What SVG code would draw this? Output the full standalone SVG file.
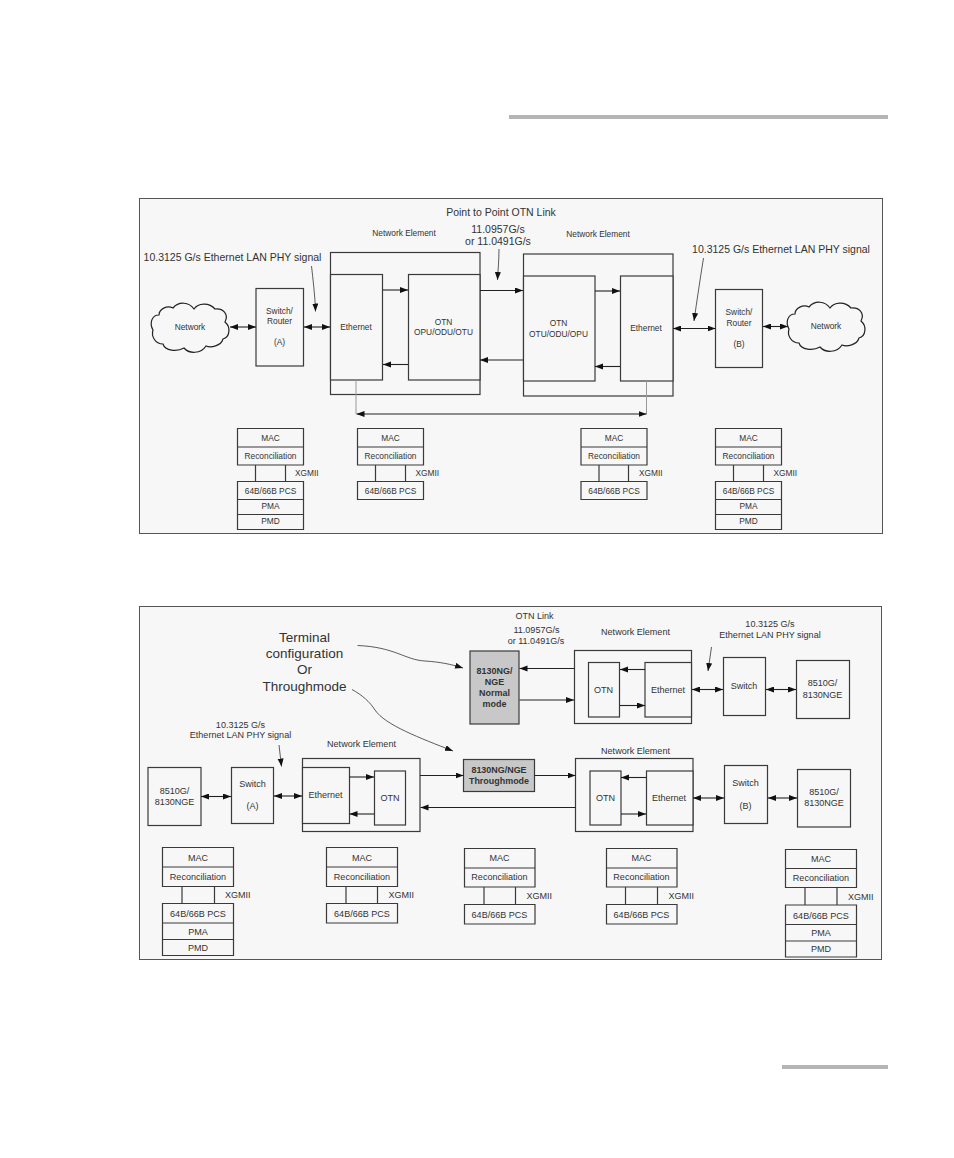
<svg xmlns="http://www.w3.org/2000/svg" width="954" height="1158" viewBox="0 0 954 1158">
<style>
text{font-family:"Liberation Sans",Arial,sans-serif;fill:#333;text-anchor:middle}
.s{font-size:8.35px}.m{font-size:9.05px}.l{font-size:10.5px}.b{font-size:8.95px;font-weight:bold}.h{font-size:13.5px}
.st{text-anchor:start}
.box{fill:none;stroke:#3a3a3a;stroke-width:1.2}
.wb{fill:#f7f7f7;stroke:#3a3a3a;stroke-width:1.2}
.g{fill:#c8c8c8;stroke:#3a3a3a;stroke-width:1.2}
.c{fill:none;stroke:#222;stroke-width:1.1;marker-end:url(#a)}
.d{fill:none;stroke:#222;stroke-width:1.1;marker-end:url(#a);marker-start:url(#r)}
.p{fill:none;stroke:#333;stroke-width:.8;marker-end:url(#a)}
.gl{fill:none;stroke:#999;stroke-width:1}
</style>
<defs>
<marker id="a" markerUnits="userSpaceOnUse" markerWidth="9" markerHeight="7" refX="8" refY="3" orient="auto"><path d="M0 0L8 3L0 6z" fill="#111"/></marker>
<marker id="r" markerUnits="userSpaceOnUse" markerWidth="9" markerHeight="7" refX="0" refY="3" orient="auto"><path d="M8 0L0 3L8 6z" fill="#111"/></marker>
<path id="cloud" d="M2 27C-2 20 1 12 8 12C8 6 16 2 22 5C28-2 38-1 43 6C47 0 58-1 64 6C72 5 78 11 74 19C80 24 79 34 72 36C70 43 60 45 55 43C50 51 38 51 33 45C26 49 14 48 12 41C4 41 0 33 2 27Z"/>
</defs>
<rect width="954" height="1158" fill="#fff"/>
<rect x="509" y="115" width="379" height="4" fill="#b5b5b5"/>
<rect x="782" y="1065" width="106" height="4" fill="#b5b5b5"/>

<g id="panel1"><rect x="139.500" y="198.500" width="743" height="335" fill="#f7f7f7" stroke="#555"/></g>
<g id="panel2"><rect x="139.500" y="606.500" width="742" height="353" fill="#f7f7f7" stroke="#555"/></g>

<g id="p1-labels">
<text class="l" x="501" y="215.500">Point to Point OTN Link</text>
<text class="s" x="404" y="235.500">Network Element</text>
<text class="s" x="598" y="236.500">Network Element</text>
<text class="l" x="498" y="232.500">11.0957G/s</text>
<text class="l" x="498" y="245">or 11.0491G/s</text>
<text class="l" x="232.500" y="260.500">10.3125 G/s Ethernet LAN PHY signal</text>
<text class="l" x="781" y="252.500">10.3125 G/s Ethernet LAN PHY signal</text>
</g>

<g id="p1-cloud-a"><use href="#cloud" transform="translate(151 303)" fill="#f7f7f7" stroke="#222" stroke-width="1.2"/><text class="s" x="190" y="330">Network</text></g>
<g id="p1-cloud-b"><use href="#cloud" transform="translate(787 302)" fill="#f7f7f7" stroke="#222" stroke-width="1.2"/><text class="s" x="826" y="329">Network</text></g>
<g id="p1-switch-a"><rect class="wb" x="256" y="288.500" width="47.500" height="77.500"/><text class="s" x="279.500" y="313.500">Switch/</text><text class="s" x="279.500" y="324">Router</text><text class="s" x="279.500" y="345">(A)</text></g>
<g id="p1-switch-b"><rect class="wb" x="715.500" y="289.500" width="47" height="78"/><text class="s" x="739" y="315">Switch/</text><text class="s" x="739" y="325.500">Router</text><text class="s" x="739" y="347">(B)</text></g>
<g id="p1-ne-left"><rect class="box" x="330.500" y="252.500" width="149.500" height="142"/>
<rect class="wb" x="330.500" y="274.500" width="52" height="105.500"/><text class="s" x="356" y="330">Ethernet</text>
<rect class="wb" x="408.500" y="274.500" width="71.500" height="105.500"/><text class="s" x="443.500" y="324.500">OTN</text><text class="s" x="443.500" y="335">OPU/ODU/OTU</text></g>
<g id="p1-ne-right"><rect class="box" x="523.500" y="254" width="149.500" height="142"/>
<rect class="wb" x="523.500" y="276" width="71.500" height="105"/><text class="s" x="558.500" y="326">OTN</text><text class="s" x="558.500" y="336.500">OTU/ODU/OPU</text>
<rect class="wb" x="620.500" y="276" width="52.500" height="105"/><text class="s" x="646" y="331">Ethernet</text></g>

<g id="p1-connectors">
<path class="d" d="M230 327H256"/><path class="d" d="M304 327H330"/>
<path class="c" d="M383 290H408"/><path class="c" d="M408 364.500H383"/>
<path class="c" d="M480 290.500H523"/><path class="c" d="M523 360H480"/>
<path class="c" d="M595 291H620"/><path class="c" d="M620 366.500H595"/>
<path class="d" d="M673 328.500H715.500"/><path class="d" d="M763 326.500H788"/>
<path class="gl" d="M356 380V414M646.500 381V414"/>
<path class="d" d="M356.500 414H646.500"/>
<path class="p" d="M311.500 266C313 280 315 295 315.500 311.500"/>
<path class="p" d="M499 249C499 260 498 270 497.500 280"/>
<path class="p" d="M703.500 258C700 280 697 300 694 321"/>
</g>

<g id="p1-stack-1"><path class="box" d="M237.500 428.500H303.500V465H237.500ZM237.500 447H303.500M255.500 465V481.500M285.500 465V481.500M237.500 481.500H303.500V529.500H237.500ZM237.500 499.500H303.500M237.500 514.500H303.500"/><text class="s" x="270.500" y="440.500">MAC</text><text class="s" x="270.500" y="458.500">Reconciliation</text><text class="s st" x="295" y="476">XGMII</text><text class="s" x="270.500" y="493.500">64B/66B PCS</text><text class="s" x="270.500" y="509">PMA</text><text class="s" x="270.500" y="524">PMD</text></g>
<g id="p1-stack-2"><path class="box" d="M357.500 428.500H423.500V465H357.500ZM357.500 447H423.500M375.500 465V481.500M405.500 465V481.500M357.500 481.500H423.500V499.500H357.500Z"/><text class="s" x="390.500" y="440.500">MAC</text><text class="s" x="390.500" y="458.500">Reconciliation</text><text class="s st" x="415.500" y="476">XGMII</text><text class="s" x="390.500" y="493.500">64B/66B PCS</text></g>
<g id="p1-stack-3"><path class="box" d="M581 428.500H647V465H581ZM581 447H647M599 465V481.500M628.500 465V481.500M581 481.500H647V499.500H581Z"/><text class="s" x="614" y="440.500">MAC</text><text class="s" x="614" y="458.500">Reconciliation</text><text class="s st" x="639" y="476">XGMII</text><text class="s" x="614" y="493.500">64B/66B PCS</text></g>
<g id="p1-stack-4"><path class="box" d="M715.500 428.500H781.500V465H715.500ZM715.500 447H781.500M733.500 465V481.500M763.500 465V481.500M715.500 481.500H781.500V529.500H715.500ZM715.500 499.500H781.500M715.500 514.500H781.500"/><text class="s" x="748.500" y="440.500">MAC</text><text class="s" x="748.500" y="458.500">Reconciliation</text><text class="s st" x="773.500" y="476">XGMII</text><text class="s" x="748.500" y="493.500">64B/66B PCS</text><text class="s" x="748.500" y="509">PMA</text><text class="s" x="748.500" y="524">PMD</text></g>

<g id="p2-labels">
<text class="h" x="304.500" y="641.500">Terminal</text><text class="h" x="304.500" y="658">configuration</text><text class="h" x="304.500" y="674">Or</text><text class="h" x="304.500" y="690.500">Throughmode</text>
<text class="m" x="534.500" y="619">OTN Link</text><text class="m" x="536.500" y="632.500">11.0957G/s</text><text class="m" x="536" y="643.500">or 11.0491G/s</text>
<text class="m" x="635.500" y="634.500">Network Element</text><text class="m" x="635.500" y="753.500">Network Element</text><text class="m" x="361.500" y="747">Network Element</text>
<text class="m" x="770" y="627">10.3125 G/s</text><text class="m" x="770" y="637.500">Ethernet LAN PHY signal</text>
<text class="m" x="240.500" y="727.500">10.3125 G/s</text><text class="m" x="240.500" y="738">Ethernet LAN PHY signal</text>
</g>

<g id="p2-normal"><rect class="g" x="470" y="651" width="49" height="73"/><text class="b" x="494.500" y="674">8130NG/</text><text class="b" x="494.500" y="685">NGE</text><text class="b" x="494.500" y="696">Normal</text><text class="b" x="494.500" y="707">mode</text></g>
<g id="p2-through"><rect class="g" x="463.500" y="759.500" width="71" height="32"/><text class="b" x="499" y="772.500">8130NG/NGE</text><text class="b" x="499" y="783.500">Throughmode</text></g>
<g id="p2-8510-a"><rect class="wb" x="148" y="767.500" width="53" height="58"/><text class="m" x="174.500" y="793.500">8510G/</text><text class="m" x="174.500" y="804.500">8130NGE</text></g>
<g id="p2-switch-a"><rect class="wb" x="231.500" y="767.500" width="42" height="56"/><text class="m" x="252.500" y="787">Switch</text><text class="m" x="252.500" y="809">(A)</text></g>
<g id="p2-ne-a"><rect class="box" x="302.500" y="758.500" width="117.500" height="73"/><rect class="wb" x="302.500" y="767.500" width="47" height="56"/><text class="m" x="325.500" y="798">Ethernet</text><rect class="wb" x="374.500" y="771" width="31" height="54"/><text class="m" x="390" y="800.500">OTN</text></g>
<g id="p2-ne-top"><rect class="box" x="574.500" y="650.500" width="117" height="73"/><rect class="wb" x="588.500" y="662.500" width="31" height="54.500"/><text class="m" x="603.500" y="692.500">OTN</text><rect class="wb" x="645" y="662.500" width="46.500" height="54.500"/><text class="m" x="668" y="692.500">Ethernet</text></g>
<g id="p2-ne-b"><rect class="box" x="575.500" y="758.500" width="117.500" height="73"/><rect class="wb" x="590" y="771" width="31" height="54"/><text class="m" x="605.500" y="800.500">OTN</text><rect class="wb" x="646.500" y="771" width="46.500" height="54"/><text class="m" x="669" y="800.500">Ethernet</text></g>
<g id="p2-switch-top"><rect class="wb" x="723.500" y="657.500" width="42" height="58"/><text class="m" x="744" y="689">Switch</text></g>
<g id="p2-8510-top"><rect class="wb" x="796.500" y="660.500" width="53" height="58"/><text class="m" x="822.500" y="686">8510G/</text><text class="m" x="822.500" y="697.500">8130NGE</text></g>
<g id="p2-switch-b"><rect class="wb" x="724.500" y="765.500" width="43" height="58"/><text class="m" x="745.500" y="786">Switch</text><text class="m" x="745.500" y="808.500">(B)</text></g>
<g id="p2-8510-b"><rect class="wb" x="797.500" y="769.500" width="53" height="57.500"/><text class="m" x="824" y="794.500">8510G/</text><text class="m" x="824" y="806">8130NGE</text></g>

<g id="p2-connectors">
<path class="d" d="M201 796.500H231"/><path class="d" d="M274 796H302"/>
<path class="c" d="M349.500 777H374"/><path class="c" d="M374 814H349.500"/>
<path class="c" d="M420 775.500H463.500"/><path class="c" d="M575.500 807.500H420.500"/><path class="c" d="M534.500 775.500H575.500"/>
<path class="c" d="M645 669.500H620"/><path class="c" d="M620 705.500H645"/>
<path class="c" d="M574.500 668.500H519.500"/><path class="c" d="M519.500 700H574"/>
<path class="c" d="M646.500 777.500H621"/><path class="c" d="M621 814H646"/>
<path class="d" d="M692 689.500H723"/><path class="d" d="M766 689.500H796"/>
<path class="d" d="M693 798H724"/><path class="d" d="M768 798H797"/>
<path class="p" d="M357.500 645.500C395 647 405 660 425 661C440 662 450 664 463 668"/>
<path class="p" d="M352 689.500C362 695 370 702 375 710C385 725 420 738 453 751"/>
<path class="p" d="M711.500 647L708 671"/>
<path class="p" d="M279 745L281.500 766.500"/>
</g>

<g id="p2-stack-1"><path class="box" d="M162.500 847.500H233.500V886.500H162.500ZM162.500 867H233.500M182 886.500V903.500M214.500 886.500V903.500M162.500 903.500H233.500V955.500H162.500ZM162.500 923H233.500M162.500 939.500H233.500"/><text class="m" x="198" y="860.500">MAC</text><text class="m" x="198" y="879.500">Reconciliation</text><text class="m st" x="225" y="898">XGMII</text><text class="m" x="198" y="916.500">64B/66B PCS</text><text class="m" x="198" y="934.500">PMA</text><text class="m" x="198" y="950.500">PMD</text></g>
<g id="p2-stack-2"><path class="box" d="M326.500 847.500H397.500V886.500H326.500ZM326.500 867H397.500M346 886.500V903.500M377.500 886.500V903.500M326.500 903.500H397.500V923H326.500Z"/><text class="m" x="362" y="860.500">MAC</text><text class="m" x="362" y="879.500">Reconciliation</text><text class="m st" x="388.500" y="898">XGMII</text><text class="m" x="362" y="916.500">64B/66B PCS</text></g>
<g id="p2-stack-3"><path class="box" d="M464.500 848.500H535V887H464.500ZM464.500 868H535M484 887V904.500M515.500 887V904.500M464.500 904.500H535V924H464.500Z"/><text class="m" x="499.500" y="861">MAC</text><text class="m" x="499.500" y="880">Reconciliation</text><text class="m st" x="526.500" y="899">XGMII</text><text class="m" x="499.500" y="917.500">64B/66B PCS</text></g>
<g id="p2-stack-4"><path class="box" d="M606.500 848.500H677V887H606.500ZM606.500 868H677M625.500 887V904.500M657.500 887V904.500M606.500 904.500H677V924H606.500Z"/><text class="m" x="641.500" y="861">MAC</text><text class="m" x="641.500" y="880">Reconciliation</text><text class="m st" x="668.500" y="899">XGMII</text><text class="m" x="641.500" y="917.500">64B/66B PCS</text></g>
<g id="p2-stack-5"><path class="box" d="M785.500 849.500H856.500V887.500H785.500ZM785.500 868.500H856.500M805 887.500V905M837 887.500V905M785.500 905H856.500V957H785.500ZM785.500 924.500H856.500M785.500 941H856.500"/><text class="m" x="821" y="861.500">MAC</text><text class="m" x="821" y="881">Reconciliation</text><text class="m st" x="848" y="900">XGMII</text><text class="m" x="821" y="918.500">64B/66B PCS</text><text class="m" x="821" y="936">PMA</text><text class="m" x="821" y="952">PMD</text></g>
</svg>
